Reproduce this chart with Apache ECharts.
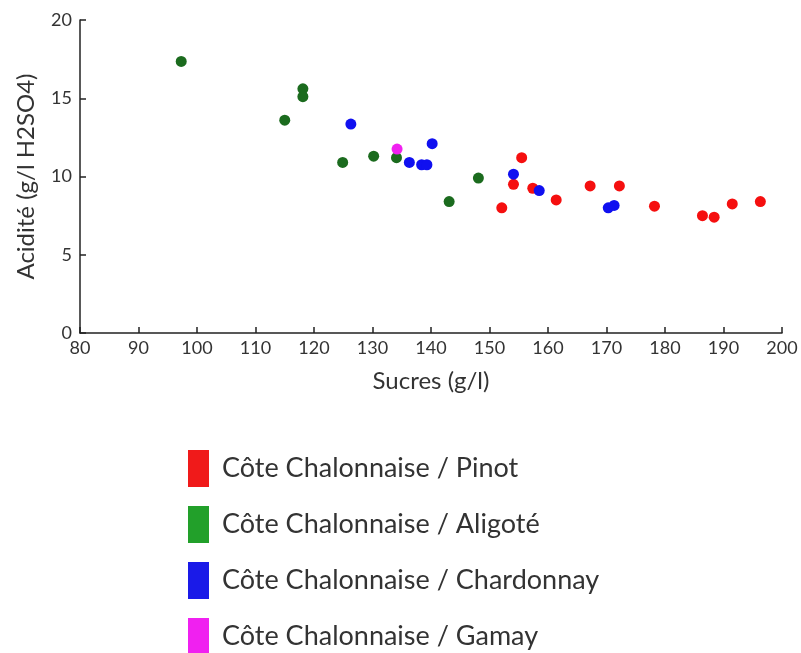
<!DOCTYPE html>
<html>
<head>
<meta charset="utf-8">
<script src="https://cdn.jsdelivr.net/npm/echarts@6/dist/echarts.min.js"></script>
<style>
  html, body { margin: 0; padding: 0; background: #fff; }
  #chart { width: 801px; height: 653px; }
</style>
</head>
<body>
<div id="chart"></div>
<script>
// points: [sucres, acidite]
var pinot = [
    [152.1, 8.0], [154.1, 9.5], [155.5, 11.2], [157.4, 9.25], [161.4, 8.5],
    [167.2, 9.4], [172.2, 9.4], [178.2, 8.1], [186.4, 7.5], [188.4, 7.4],
    [191.5, 8.25], [196.3, 8.4]
];
var aligote = [
    [97.3, 17.35], [115.0, 13.6], [118.1, 15.6], [118.1, 15.1], [124.9, 10.9],
    [130.2, 11.3], [134.1, 11.2], [148.1, 9.9], [143.1, 8.4]
];
var chardonnay = [
    [126.3, 13.35], [136.3, 10.9], [138.4, 10.75], [139.3, 10.75], [140.2, 12.1],
    [154.1, 10.15], [158.5, 9.1], [170.3, 8.0], [171.3, 8.15]
];
var gamay = [
    [134.2, 11.75]
];
var seriesNames = [
    'Côte Chalonnaise / Pinot',
    'Côte Chalonnaise / Aligoté',
    'Côte Chalonnaise / Chardonnay',
    'Côte Chalonnaise / Gamay'
];
var dotColors = ['#f50f0f', '#1b6b1e', '#1010f0', '#f020f0'];
var keyColors = ['#f01a1a', '#22a02a', '#1a1ae8', '#f020f0'];

var chart = echarts.init(document.getElementById('chart'));
var font = 'Lato, "Open Sans", sans-serif';
var datasets = [pinot, aligote, chardonnay, gamay];

var option = {
    animation: false,
    backgroundColor: '#fff',
    grid: {
        left: 80,
        right: 19,
        top: 20,
        bottom: 320
    },
    legend: {
        orient: 'vertical',
        left: 183,
        top: 445,
        height: 220,
        itemWidth: 21,
        itemHeight: 37,
        itemGap: 19,
        icon: 'rect',
        textStyle: { fontSize: 27, color: '#333', fontFamily: font, padding: [0, 0, 0, 8] },
        data: seriesNames.map(function (n, i) {
            return { name: n, itemStyle: { color: keyColors[i] } };
        })
    },
    xAxis: {
        type: 'value',
        min: 80,
        max: 200,
        interval: 10,
        name: 'Sucres (g/l)',
        nameLocation: 'middle',
        nameGap: 36,
        nameTextStyle: { fontSize: 24, color: '#333', fontFamily: font },
        axisLine: { lineStyle: { color: '#222', width: 1.5 } },
        axisTick: { inside: true, length: 6, lineStyle: { color: '#222', width: 1.5 } },
        axisLabel: { fontSize: 18, color: '#333', fontFamily: font, margin: 6 },
        splitLine: { show: false }
    },
    yAxis: {
        type: 'value',
        min: 0,
        max: 20,
        interval: 5,
        name: 'Acidité (g/l H2SO4)',
        nameLocation: 'middle',
        nameGap: 42,
        nameTextStyle: { fontSize: 24, color: '#333', fontFamily: font },
        axisLine: { show: true, lineStyle: { color: '#222', width: 1.5 } },
        axisTick: { show: true, inside: true, length: 6, lineStyle: { color: '#222', width: 1.5 } },
        axisLabel: { fontSize: 18, color: '#333', fontFamily: font, margin: 8 },
        splitLine: { show: false }
    },
    series: datasets.map(function (d, i) {
        return {
            name: seriesNames[i],
            type: 'scatter',
            symbolSize: 11,
            itemStyle: { color: dotColors[i], opacity: 1 },
            data: d
        };
    })
};

chart.setOption(option);
</script>
</body>
</html>
